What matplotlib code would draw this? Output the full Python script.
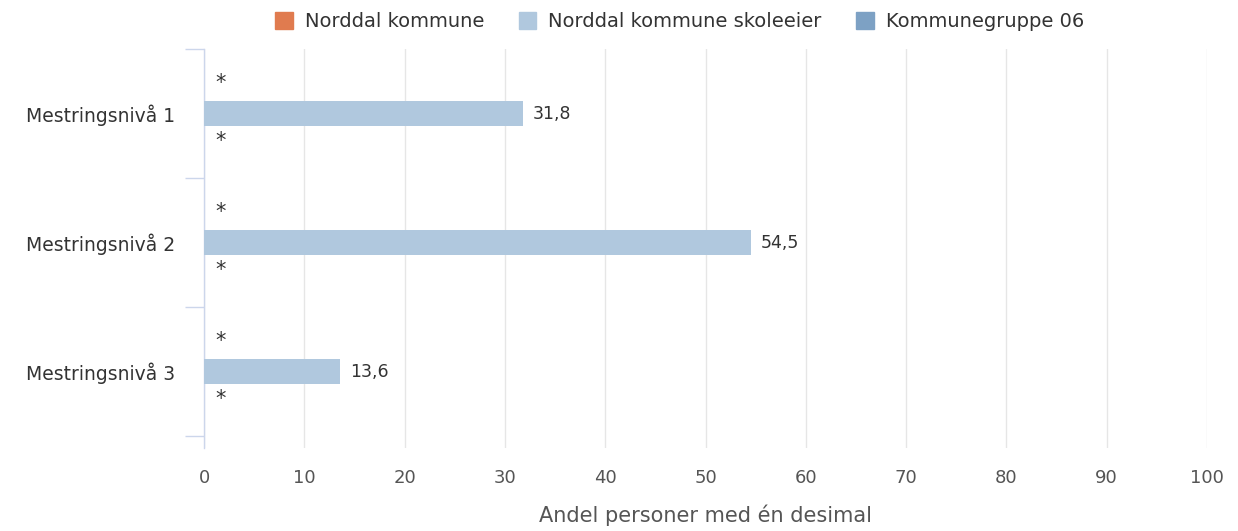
import matplotlib.pyplot as plt
from matplotlib.patches import Patch

# Data
kategorier = ['Mestringsnivå 1', 'Mestringsnivå 2', 'Mestringsnivå 3']
serier = ['Norddal kommune', 'Norddal kommune skoleeier', 'Kommunegruppe 06']
farger = ['#e07b4f', '#b0c8de', '#7da1c4']
kommune = [None, None, None]          # skjult (*)
skoleeier = [31.8, 54.5, 13.6]
kommunegruppe = [None, None, None]    # skjult (*)
verdier = [kommune, skoleeier, kommunegruppe]
x_ticks = [0, 10, 20, 30, 40, 50, 60, 70, 80, 90, 100]

fig = plt.figure(figsize=(12.38, 5.31), dpi=100)
ax = fig.add_axes([0.1648, 0.1563, 0.8102, 0.7514])

tekstfarge = '#333333'
aksefarge = '#ccd6eb'
offsets = [-0.225, 0.0, 0.225]
hoyde = 0.19

for s, vals in enumerate(verdier):
    for i, v in enumerate(vals):
        y = i + offsets[s]
        if v is None:
            ax.annotate('*', xy=(0, y), xytext=(12, 1), textcoords='offset points',
                        ha='center', va='center', fontsize=15, color=tekstfarge)
        else:
            ax.barh(y, v, height=hoyde, color=farger[s], zorder=3)
            ax.annotate(f'{v:.1f}'.replace('.', ','), xy=(v, y), xytext=(7, 0),
                        textcoords='offset points', ha='left', va='center',
                        fontsize=12.5, color=tekstfarge)

ax.set_xlim(0, 100)
ax.set_ylim(2.593, -0.5)
ax.set_xticks(x_ticks)
ax.set_xticklabels([str(t) for t in x_ticks])
ax.grid(axis='x', color='#e6e6e6', linewidth=1, zorder=0)

# kategori-akse med ticks mellom kategoriene
ax.set_yticks([0, 1, 2])
ax.set_yticklabels(kategorier)
ax.set_yticks([-0.5, 0.5, 1.5, 2.5], minor=True)
ax.tick_params(axis='y', which='major', length=0, pad=21, labelsize=13.5, labelcolor=tekstfarge)
ax.tick_params(axis='y', which='minor', length=14, color=aksefarge, width=1)
ax.tick_params(axis='x', length=0, pad=15, labelsize=13, labelcolor='#555555')

for side in ['top', 'right', 'bottom']:
    ax.spines[side].set_visible(False)
ax.spines['left'].set_color(aksefarge)
ax.spines['left'].set_linewidth(1)

ax.set_xlabel('Andel personer med én desimal', fontsize=15, color='#555555', labelpad=13)

handles = [Patch(color=c, label=l) for c, l in zip(farger, serier)]
fig.legend(handles=handles, loc='upper center', bbox_to_anchor=(0.549, 1.01), ncol=3,
           frameon=False, fontsize=14, handlelength=0.9, handleheight=0.9,
           columnspacing=1.8, handletextpad=0.6, labelcolor=tekstfarge)

fig.savefig('out.png', dpi=100)
